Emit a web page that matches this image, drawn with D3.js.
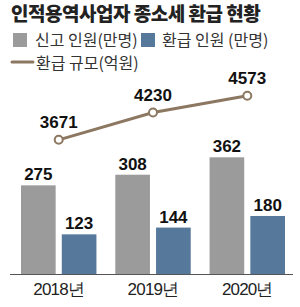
<!DOCTYPE html>
<html>
<head>
<meta charset="utf-8">
<script src="https://cdn.jsdelivr.net/npm/d3@7"></script>
<style>
  html, body { margin: 0; padding: 0; background: #fff; }
  svg { display: block; }
</style>
</head>
<body>
<svg id="chart" width="300" height="307"></svg>
<script>
const years = ['2018년', '2019년', '2020년'];
const filed = [275, 308, 362];      // 신고 인원(만명)
const refunded = [123, 144, 180];   // 환급 인원(만명)
const refundAmt = [3671, 4230, 4573]; // 환급 규모(억원)

const baseY = 274;
const grey = '#9b9b9b', blue = '#56789a', brown = '#8c7761';
const kr = '"Noto Sans CJK KR", "Noto Sans", sans-serif';
const num = '"Liberation Sans Narrow", "Liberation Sans", Arial, sans-serif';

const svg = d3.select('#chart');

// title
svg.append('text')
  .attr('x', 11).attr('y', 21)
  .attr('font-family', kr).attr('font-weight', 900)
  .attr('font-size', 19).attr('letter-spacing', -0.5)
  .attr('fill', '#222')
  .text('인적용역사업자 종소세 환급 현황');

// legend
const leg = svg.append('g').attr('font-family', kr).attr('font-size', 16)
  .attr('fill', '#333');
leg.append('rect').attr('x', 13).attr('y', 33).attr('width', 14).attr('height', 14).attr('fill', grey);
leg.append('text').attr('x', 35).attr('y', 46).text('신고 인원(만명)');
leg.append('rect').attr('x', 141).attr('y', 33).attr('width', 14).attr('height', 14).attr('fill', blue);
leg.append('text').attr('x', 162).attr('y', 46).text('환급 인원 (만명)');
leg.append('line').attr('x1', 12).attr('x2', 33).attr('y1', 62).attr('y2', 62)
  .attr('stroke', brown).attr('stroke-width', 3).attr('stroke-linecap', 'round');
leg.append('text').attr('x', 36).attr('y', 69).text('환급 규모(억원)');

// scales
const x = d3.scaleBand().domain(years).range([21, 285]).paddingInner(0.2).paddingOuter(0);
const sub = d3.scaleBand().domain(['filed', 'refunded']).range([0, x.bandwidth()]).paddingInner(0.15);
const y = d3.scaleLinear().domain([0, 850]).range([baseY, 0]);
const y2 = d3.scaleLinear().domain([900, 5000]).range([275, 75]);

const groups = years.map((yr, i) => ({yr, filed: filed[i], refunded: refunded[i], amt: refundAmt[i]}));

const g = svg.selectAll('g.year').data(groups).enter().append('g')
  .attr('class', 'year')
  .attr('transform', d => `translate(${x(d.yr)},0)`);

const series = [{key: 'filed', color: grey}, {key: 'refunded', color: blue}];
series.forEach(s => {
  g.append('rect')
    .attr('x', sub(s.key))
    .attr('y', d => y(d[s.key]))
    .attr('width', sub.bandwidth())
    .attr('height', d => baseY - y(d[s.key]))
    .attr('fill', s.color);
  g.append('text')
    .attr('x', sub(s.key) + sub.bandwidth() / 2)
    .attr('y', d => y(d[s.key]) - 5)
    .attr('text-anchor', 'middle')
    .attr('font-family', num).attr('font-size', 17).attr('font-weight', 700)
    .attr('fill', '#111')
    .text(d => d[s.key]);
});

// axis
const axis = svg.append('g').attr('transform', `translate(0,${baseY})`)
  .call(d3.axisBottom(x).tickSize(0).tickPadding(9));
axis.select('.domain').attr('d', 'M10,0.5H293').attr('stroke', '#555').attr('stroke-width', 1);
axis.selectAll('text').attr('font-family', num).attr('font-size', 17)
  .attr('fill', '#222').attr('letter-spacing', -0.8);

// line
const cx = d => x(d.yr) + x.bandwidth() / 2;
const line = d3.line().x(cx).y(d => y2(d.amt));
svg.append('path').datum(groups).attr('d', line)
  .attr('fill', 'none').attr('stroke', brown).attr('stroke-width', 3);
svg.selectAll('circle.pt').data(groups).enter().append('circle')
  .attr('class', 'pt')
  .attr('cx', cx).attr('cy', d => y2(d.amt)).attr('r', 4)
  .attr('fill', '#fff').attr('stroke', brown).attr('stroke-width', 2);
svg.selectAll('text.amt').data(groups).enter().append('text')
  .attr('class', 'amt')
  .attr('x', cx).attr('y', d => y2(d.amt) - 12)
  .attr('text-anchor', 'middle')
  .attr('font-family', num).attr('font-size', 17).attr('font-weight', 700)
  .attr('fill', '#111')
  .text(d => d.amt);
</script>
</body>
</html>
